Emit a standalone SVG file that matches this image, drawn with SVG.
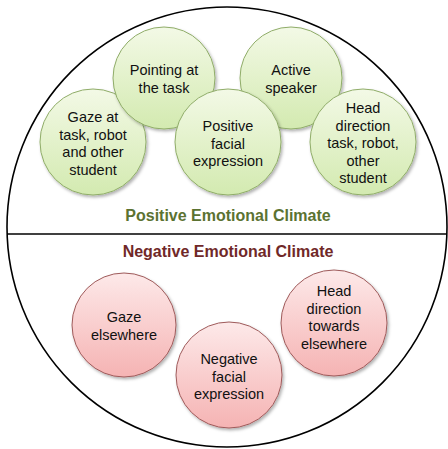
<svg xmlns="http://www.w3.org/2000/svg" width="448" height="449" viewBox="0 0 448 449">
  <defs>
    <linearGradient id="gGreen" x1="0" y1="0" x2="0" y2="1">
      <stop offset="0" stop-color="#f3f9e6"/>
      <stop offset="1" stop-color="#d3eab0"/>
    </linearGradient>
    <linearGradient id="gRed" x1="0" y1="0" x2="0" y2="1">
      <stop offset="0" stop-color="#fde9e9"/>
      <stop offset="1" stop-color="#f5b3b3"/>
    </linearGradient>
    <filter id="shadow" x="-20%" y="-20%" width="150%" height="150%">
      <feDropShadow dx="1.5" dy="2" stdDeviation="1.5" flood-color="#000" flood-opacity="0.3"/>
    </filter>
  </defs>
  <style>
    .pos { fill: url(#gGreen); stroke: #8fac68; stroke-width: 1; filter: url(#shadow); }
    .neg { fill: url(#gRed); stroke: #9e5a5a; stroke-width: 1; filter: url(#shadow); }
    .lbl { font-family: "Liberation Sans", Arial, sans-serif; font-size: 14.5px; fill: #111; text-anchor: middle; }
    .title { font-family: "Liberation Sans", Arial, sans-serif; font-size: 16px; font-weight: bold; text-anchor: middle; }
  </style>
  <rect width="448" height="449" fill="#fff"/>

  <!-- outer boundary and divider -->
  <g id="frame">
    <circle cx="227" cy="227" r="220" fill="none" stroke="#000" stroke-width="1.6"/>
    <line x1="7" y1="234" x2="447" y2="234" stroke="#000" stroke-width="1.4"/>
  </g>

  <g id="connectors"></g>

  <!-- positive climate cues -->
  <g id="gaze-task">
    <circle class="pos" cx="93" cy="142" r="53"/>
    <text class="lbl" x="93" y="122">Gaze at</text>
    <text class="lbl" x="93" y="139.5">task, robot</text>
    <text class="lbl" x="93" y="157">and other</text>
    <text class="lbl" x="93" y="174.5">student</text>
  </g>
  <g id="pointing">
    <circle class="pos" cx="164" cy="78" r="51"/>
    <text class="lbl" x="164" y="75">Pointing at</text>
    <text class="lbl" x="164" y="92.5">the task</text>
  </g>
  <g id="active-speaker">
    <circle class="pos" cx="291" cy="78" r="51"/>
    <text class="lbl" x="291" y="75">Active</text>
    <text class="lbl" x="291" y="92.5">speaker</text>
  </g>
  <g id="positive-facial">
    <circle class="pos" cx="228" cy="142" r="53"/>
    <text class="lbl" x="228" y="131">Positive</text>
    <text class="lbl" x="228" y="148.5">facial</text>
    <text class="lbl" x="228" y="166">expression</text>
  </g>
  <g id="head-task">
    <circle class="pos" cx="363" cy="142" r="53"/>
    <text class="lbl" x="363" y="113">Head</text>
    <text class="lbl" x="363" y="130.5">direction</text>
    <text class="lbl" x="363" y="148">task, robot,</text>
    <text class="lbl" x="363" y="165.5">other</text>
    <text class="lbl" x="363" y="183">student</text>
  </g>
  <g id="positive-title">
    <text class="title" x="228" y="221" fill="#5b7231">Positive Emotional Climate</text>
  </g>

  <!-- negative climate cues -->
  <g id="negative-title">
    <text class="title" x="228" y="257" fill="#702828">Negative Emotional Climate</text>
  </g>
  <g id="gaze-elsewhere">
    <circle class="neg" cx="124" cy="325" r="52"/>
    <text class="lbl" x="124" y="322">Gaze</text>
    <text class="lbl" x="124" y="339.5">elsewhere</text>
  </g>
  <g id="negative-facial">
    <circle class="neg" cx="229" cy="375" r="53"/>
    <text class="lbl" x="229" y="364">Negative</text>
    <text class="lbl" x="229" y="381.5">facial</text>
    <text class="lbl" x="229" y="399">expression</text>
  </g>
  <g id="head-elsewhere">
    <circle class="neg" cx="334" cy="323" r="53"/>
    <text class="lbl" x="334" y="296">Head</text>
    <text class="lbl" x="334" y="313.5">direction</text>
    <text class="lbl" x="334" y="331">towards</text>
    <text class="lbl" x="334" y="348.5">elsewhere</text>
  </g>
</svg>
